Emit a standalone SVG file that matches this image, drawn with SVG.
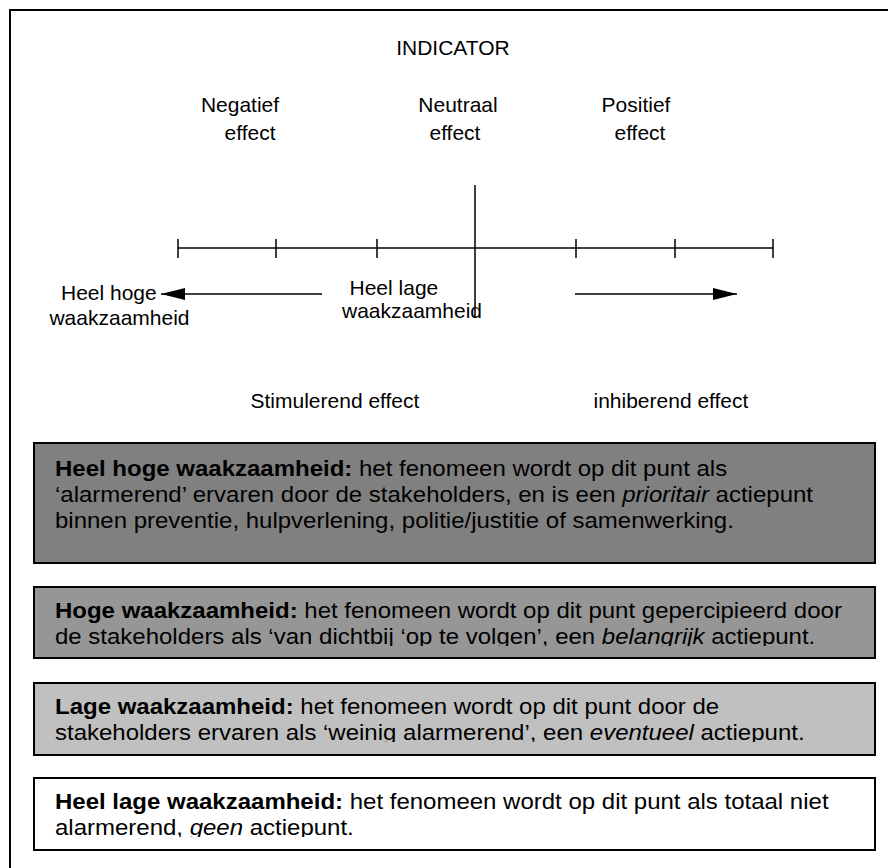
<svg xmlns="http://www.w3.org/2000/svg" width="888" height="868" viewBox="0 0 888 868">
<style>
  text { font-family: "Liberation Sans", Arial, Helvetica, sans-serif; fill: #000; }
  .s { font-size: 20px; }
  .m { text-anchor: middle; }
  .bt { font-size: 22px; }
  .bold { font-weight: bold; }
  .it { font-style: italic; }
  .frame { fill: none; stroke: #000; stroke-width: 2; }
  .box { stroke: #000; stroke-width: 2; }
  .axis { stroke: #000; stroke-width: 1.5; fill: none; }
</style>
<defs>
  <marker id="ah" markerUnits="userSpaceOnUse" markerWidth="24" markerHeight="12" refX="24" refY="6" orient="auto">
    <path d="M0,0 L24,6 L0,12 Z" fill="#000"/>
  </marker>
  <clipPath id="c2"><rect x="34" y="588" width="840" height="58"/></clipPath>
  <clipPath id="c3"><rect x="34" y="684" width="840" height="58"/></clipPath>
  <clipPath id="c4"><rect x="34" y="779" width="840" height="58"/></clipPath>
</defs>

<rect x="0" y="0" width="888" height="868" fill="#fff"/>
<path class="frame" d="M10,868 V10 H888"/>

<g id="indicator"><g transform="scale(1.05,1)"><text class="s m" x="431.4" y="55">INDICATOR</text></g></g>

<g id="negatief"><g transform="scale(1.05,1)">
  <text class="s m" x="228.6" y="112">Negatief</text>
  <text class="s m" x="238.1" y="140">effect</text>
</g></g>
<g id="neutraal"><g transform="scale(1.05,1)">
  <text class="s m" x="436.2" y="112">Neutraal</text>
  <text class="s m" x="433.3" y="140">effect</text>
</g></g>
<g id="positief"><g transform="scale(1.05,1)">
  <text class="s m" x="605.7" y="112">Positief</text>
  <text class="s m" x="609.5" y="140">effect</text>
</g></g>

<g id="scale">
  <line class="axis" x1="178" y1="248" x2="773" y2="248"/>
  <line class="axis" x1="178" y1="239" x2="178" y2="258"/>
  <line class="axis" x1="276" y1="239" x2="276" y2="258"/>
  <line class="axis" x1="377" y1="239" x2="377" y2="258"/>
  <line class="axis" x1="576" y1="239" x2="576" y2="258"/>
  <line class="axis" x1="675" y1="239" x2="675" y2="258"/>
  <line class="axis" x1="773" y1="239" x2="773" y2="258"/>
  <line class="axis" x1="475" y1="185" x2="475" y2="318"/>
</g>

<g id="connectors">
  <line class="axis" x1="322" y1="294" x2="161" y2="294" marker-end="url(#ah)"/>
  <line class="axis" x1="575" y1="294" x2="737" y2="294" marker-end="url(#ah)"/>
</g>

<g id="heel-hoge"><g transform="scale(1.05,1)">
  <text class="s" x="58.1" y="300">Heel hoge</text>
  <text class="s" x="47.1" y="325">waakzaamheid</text>
</g></g>
<g id="heel-lage"><g transform="scale(1.05,1)">
  <text class="s" x="332.9" y="295">Heel lage</text>
  <text class="s" x="325.7" y="318">waakzaamheid</text>
</g></g>

<g id="stimulerend"><g transform="scale(1.05,1)"><text class="s m" x="319" y="408">Stimulerend effect</text></g></g>
<g id="inhiberend"><g transform="scale(1.05,1)"><text class="s m" x="639" y="408">inhiberend effect</text></g></g>

<g id="box-heel-hoge">
  <rect class="box" x="34" y="443" width="841" height="120" fill="#808080"/>
  <g transform="scale(1.0909,1)">
    <text class="bt" x="50.4" y="476"><tspan class="bold">Heel hoge waakzaamheid:</tspan> het fenomeen wordt op dit punt als</text>
    <text class="bt" x="50.4" y="502">‘alarmerend’ ervaren door de stakeholders, en is een <tspan class="it">prioritair</tspan> actiepunt</text>
    <text class="bt" x="50.4" y="528">binnen preventie, hulpverlening, politie/justitie of samenwerking.</text>
  </g>
</g>

<g id="box-hoge">
  <rect class="box" x="34" y="587" width="841" height="71" fill="#969696"/>
  <g clip-path="url(#c2)"><g transform="scale(1.0909,1)">
    <text class="bt" x="50.4" y="618"><tspan class="bold">Hoge waakzaamheid:</tspan> het fenomeen wordt op dit punt gepercipieerd door</text>
    <text class="bt" x="50.4" y="644">de stakeholders als ‘van dichtbij ‘op te volgen’, een <tspan class="it">belangrijk</tspan> actiepunt.</text>
  </g></g>
</g>

<g id="box-lage">
  <rect class="box" x="34" y="683" width="841" height="72" fill="#c0c0c0"/>
  <g clip-path="url(#c3)"><g transform="scale(1.0909,1)">
    <text class="bt" x="50.4" y="714"><tspan class="bold">Lage waakzaamheid:</tspan> het fenomeen wordt op dit punt door de</text>
    <text class="bt" x="50.4" y="740">stakeholders ervaren als ‘weinig alarmerend’, een <tspan class="it">eventueel</tspan> actiepunt.</text>
  </g></g>
</g>

<g id="box-heel-lage">
  <rect class="box" x="34" y="778" width="841" height="72" fill="#ffffff"/>
  <g clip-path="url(#c4)"><g transform="scale(1.0909,1)">
    <text class="bt" x="50.4" y="809"><tspan class="bold">Heel lage waakzaamheid:</tspan> het fenomeen wordt op dit punt als totaal niet</text>
    <text class="bt" x="50.4" y="835">alarmerend, <tspan class="it">geen</tspan> actiepunt.</text>
  </g></g>
</g>
</svg>
